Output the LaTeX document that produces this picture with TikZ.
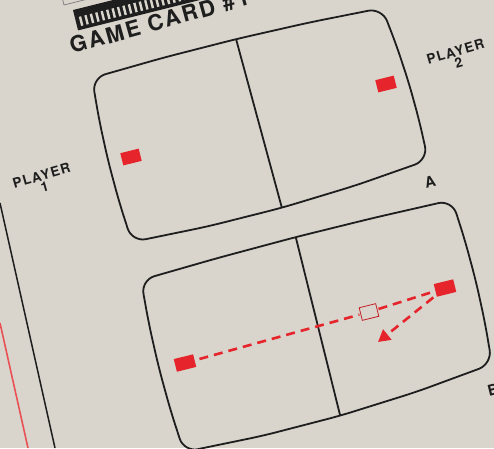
\documentclass[tikz,border=0pt]{standalone}
\usepackage{fontspec}
\setsansfont{TeX Gyre Heros}
\usetikzlibrary{calc,arrows.meta}
\definecolor{paper}{HTML}{D9D4CC}
\definecolor{ink}{HTML}{1E1E1E}
\definecolor{pred}{HTML}{E5252B}
\newcommand\bside[4]{-- ($(#1)!.25!(#2)!#3!90:(#2)$) -- ($(#1)!.5!(#2)!#4!90:(#2)$) -- ($(#1)!.75!(#2)!#3!90:(#2)$) -- (#2)}
\begin{document}
\begin{tikzpicture}[x=1pt,y=-1pt,
  tiltxy/.style={x={(0.9703pt,0.2419pt)},y={(0.2419pt,-0.9703pt)}},
  screen/.style={draw=ink,line width=1.8pt,rounded corners=14pt,line join=round},
  divider/.style={draw=ink,line width=1.8pt},
  puckfill/.style={fill=pred},
  ghostline/.style={draw=pred!85!black,line width=0.8pt},
  trail/.style={draw=pred,line width=2.6pt,dash pattern=on 9pt off 6pt},
  lbl/.style={font=\sffamily\bfseries,text=ink,inner sep=0pt}]
\fill[paper] (0,0) -- (494,0) -- (494,448) -- (0,448) -- cycle;
\useasboundingbox (0,0) rectangle (494,448);
% margin lines
\draw[ink,line width=1.5pt] (0,203) -- (55,448);
\draw[pred!80,line width=1.6pt] (0,323) -- (28,448);
% card header band
\begin{scope}[shift={(64,5)},tiltxy]
  \draw[ink!55,line width=0.8pt] (0,0) -- (180,0) -- (180,-30) -- (0,-30) -- cycle;
\end{scope}
\begin{scope}[shift={(73,10)},tiltxy]
  \fill[ink] (0,0) -- (170,0) -- (170,21) -- (0,21) -- cycle;
  \foreach \i in {0,...,28} {\fill[paper] ({4+5.6*\i},8) -- ({6.4+5.6*\i},8) -- ({6.4+5.6*\i},17.5) -- ({4+5.6*\i},17.5) -- cycle;}
\end{scope}
\node[lbl,font=\sffamily\bfseries\fontsize{22}{22}\selectfont,anchor=base west,rotate=15.5] (title) at (72,54) {\addfontfeature{LetterSpace=10}GAME CARD \#1};
% screen A
\coordinate (a1) at (92,78); \coordinate (a2) at (382,8);
\coordinate (a3) at (428,160); \coordinate (a4) at (132,242);
\coordinate (atop) at ($(a1)!.5!(a2)!4pt!90:(a2)$);
\coordinate (abot) at ($(a3)!.5!(a4)!7pt!90:(a4)$);
\path[screen] (atop) -- ($(a1)!.75!(a2)!3pt!90:(a2)$) -- (a2)
  \bside{a2}{a3}{3pt}{4pt} \bside{a3}{a4}{5.2pt}{7pt} \bside{a4}{a1}{3pt}{4pt}
  -- ($(a1)!.25!(a2)!3pt!90:(a2)$) -- cycle;
\draw[divider] (atop) -- (abot);
\coordinate (p1) at (131,157);
\coordinate (p2) at (386,84);
\foreach \c in {p1,p2} {\begin{scope}[shift={(\c)},tiltxy]\fill[puckfill] (-9.5,-6.3) -- (9.5,-6.3) -- (9.5,6.3) -- (-9.5,6.3) -- cycle;\end{scope}}
% screen B
\coordinate (b1) at (141,280); \coordinate (b2) at (452,200);
\coordinate (b3) at (492,364); \coordinate (b4) at (184,452);
\coordinate (btop) at ($(b1)!.5!(b2)!3pt!90:(b2)$);
\coordinate (bbot) at ($(b3)!.5!(b4)!8pt!90:(b4)$);
\path[screen] (btop) -- ($(b1)!.75!(b2)!2.2pt!90:(b2)$) -- (b2)
  \bside{b2}{b3}{3pt}{4pt} \bside{b3}{b4}{6pt}{8pt} \bside{b4}{b1}{3pt}{4pt}
  -- ($(b1)!.25!(b2)!2.2pt!90:(b2)$) -- cycle;
\draw[divider] (btop) -- (bbot);
\coordinate (q1) at (185,363);
\coordinate (g) at (369,312);
\coordinate (q2) at (445,288);
\coordinate (tip) at (378,342);
\coordinate (gl) at ($(g)!10pt!(q1)$);
\coordinate (gr) at ($(g)!10pt!(q2)$);
\draw[trail] (q1) -- (gl);
\draw[trail] (gr) -- (q2);
\draw[trail,-{Triangle[length=12pt,width=13pt]}] (q2) -- (tip);
\foreach \c in {q1,q2} {\begin{scope}[shift={(\c)},tiltxy]\fill[puckfill] (-10,-6.5) -- (10,-6.5) -- (10,6.5) -- (-10,6.5) -- cycle;\end{scope}}
\begin{scope}[shift={(g)},tiltxy]\draw[ghostline] (-8.5,-6.5) -- (8.5,-6.5) -- (8.5,6.5) -- (-8.5,6.5) -- cycle;\end{scope}
% labels
\node[lbl,font=\sffamily\bfseries\fontsize{13.5}{12}\selectfont,align=center,rotate=16] (l2) at (457,57) {\addfontfeature{LetterSpace=8}PLAYER\\[-1pt]2};
\node[lbl,font=\sffamily\bfseries\fontsize{13.5}{12}\selectfont,align=center,rotate=16] (l1) at (43,181) {\addfontfeature{LetterSpace=8}PLAYER\\[-1pt]1};
\node[lbl,font=\sffamily\bfseries\fontsize{15}{15}\selectfont,rotate=14] (la) at (430,182) {A};
\node[lbl,font=\sffamily\bfseries\fontsize{15}{15}\selectfont,rotate=14] (lb) at (493,390) {B};
\end{tikzpicture}
\end{document}
